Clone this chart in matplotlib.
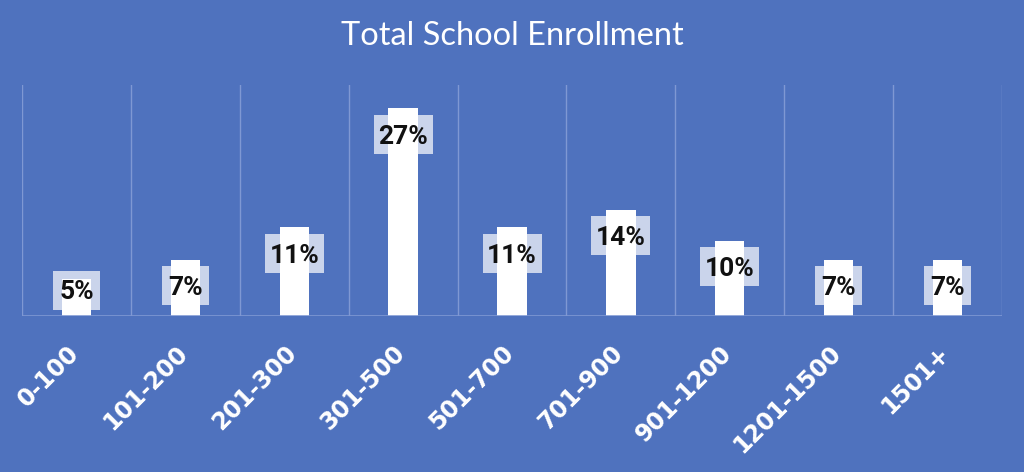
import matplotlib
matplotlib.use("Agg")
import matplotlib.pyplot as plt
from matplotlib import font_manager
from matplotlib.patches import Rectangle

categories = ["0-100", "101-200", "201-300", "301-500", "501-700",
              "701-900", "901-1200", "1201-1500", "1501+"]
values = [4.8, 7.3, 11.5, 27.0, 11.5, 13.8, 9.8, 7.3, 7.3]
labels = ["5%", "7%", "11%", "27%", "11%", "14%", "10%", "7%", "7%"]
title = "Total School Enrollment"


def pick(fams):
    for f in fams:
        try:
            font_manager.findfont(font_manager.FontProperties(family=f, weight="bold"),
                                  fallback_to_default=False)
            return f
        except Exception:
            pass
    return "DejaVu Sans"


lab_font = pick(["Liberation Sans Narrow", "Roboto", "Open Sans"])

bg = "#4F72BE"
grid_c = "#7F98D3"

fig = plt.figure(figsize=(10.24, 4.72), dpi=100)
fig.patch.set_facecolor(bg)
ax = fig.add_axes([22/1024, (472-316)/472, (1002-22)/1024, (316-85)/472])
ax.set_facecolor(bg)

x = list(range(len(categories)))
ax.bar(x, values, width=0.27, color="white", zorder=2)
ax.set_xlim(-0.5, len(categories) - 0.5)
ax.set_ylim(0, 30)

for b in [i - 0.5 for i in range(len(categories) + 1)]:
    ax.axvline(b, color=grid_c, lw=1, zorder=1)
ax.axhline(0, color=grid_c, lw=1.2, zorder=3)

for s in ax.spines.values():
    s.set_visible(False)
ax.set_yticks([])
ax.set_xticks(x)
ax.tick_params(axis="x", length=0, pad=0)
ax.set_xticklabels([])

# pixel -> data conversions
px_x = (len(categories)) / (1002 - 22)
px_y = 30 / (316 - 85)
off = 26 * px_y
box_h = 39 * px_y
for xi, v, lab in zip(x, values, labels):
    yc = max(v - off, 26 * px_y)
    bw = (47 if len(lab) == 2 else 59) * px_x
    ax.add_patch(Rectangle((xi - bw / 2, yc - box_h / 2), bw, box_h,
                           facecolor="white", alpha=0.7, edgecolor="none",
                           zorder=4))
    ax.annotate(lab, xy=(xi, yc), xytext=(0, -6.8), textcoords="offset points",
                ha="center", va="baseline", fontsize=19, fontweight="bold",
                family=lab_font, color="#111111", zorder=5)

for xi, c in zip(x, categories):
    ax.annotate(c, xy=(xi, 0), xycoords=("data", "axes fraction"),
                xytext=(5, -18), textcoords="offset points",
                ha="right", va="top", rotation=45, fontsize=17,
                fontweight="bold", family="DejaVu Sans", color="white")

fig.text(512/1024, 1 - 36/472, title, ha="center", va="center",
         fontsize=23.5, family="Lato", color="white")

fig.savefig("out.png", dpi=100, facecolor=bg)
